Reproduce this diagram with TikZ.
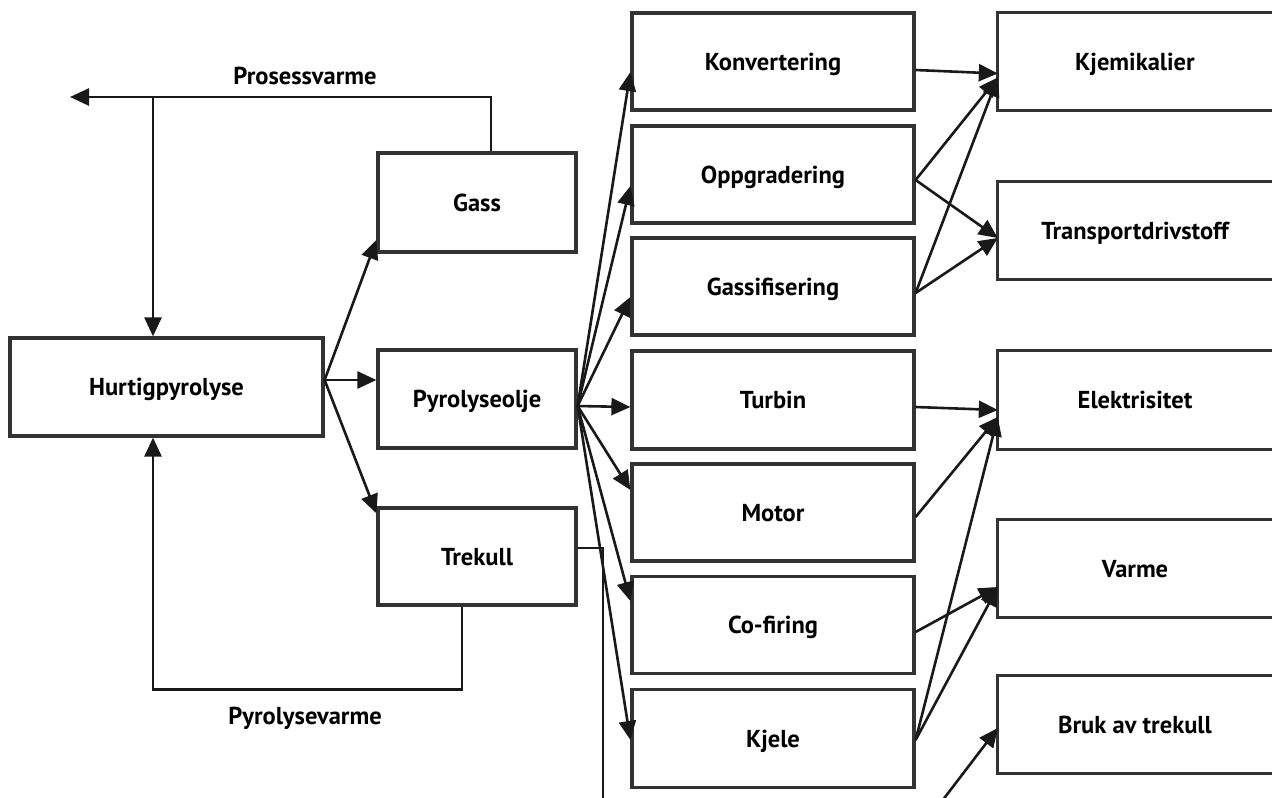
\documentclass[tikz,border=0pt]{standalone}
\usepackage{fontspec}
\setmainfont{PT Sans}
\usetikzlibrary{arrows.meta,calc}
\begin{document}
\begin{tikzpicture}[x=1pt,y=-1pt,
  boxline/.style={draw=black!80, line width=3.2pt},
  txt/.style={font=\bfseries\fontsize{24.5}{28}\selectfont, text=black, text height=17pt, text depth=0pt},
  box/.style={boxline, txt, rectangle, inner sep=0pt},
  lbox/.style={box, minimum width=198pt, minimum height=97pt},
  mbox/.style={box, minimum width=282pt, minimum height=97pt},
  rbox/.style={txt, rectangle, inner sep=0pt, minimum width=274pt, minimum height=97pt},
  conn/.style={draw=black!90, line width=2.6pt, -{Triangle[length=19pt,width=17pt]}},
  plain/.style={draw=black!90, line width=2.6pt},
  lbl/.style={txt}]
\useasboundingbox (0,0) rectangle (1272,798);
\clip (0,0) rectangle (1272,798);
\fill[white] (0,0) rectangle (1272,798);

% left column
\node[box, minimum width=313pt, minimum height=98pt] (hp) at (166.5,387) {Hurtigpyrolyse};
\node[lbox, minimum height=99pt] (gass) at (477,202.5) {Gass};
\node[lbox, minimum height=98pt] (po) at (477,399) {Pyrolyseolje};
\node[lbox] (tk) at (477,556.5) {Trekull};

% middle column
\node[mbox] (konv) at (773,61.5) {Konvertering};
\node[mbox] (oppg) at (773,174.5) {Oppgradering};
\node[mbox] (gassi) at (773,286.5) {Gassifisering};
\node[mbox, minimum height=98pt] (turb) at (773,400) {Turbin};
\node[mbox] (mot) at (773,512.5) {Motor};
\node[mbox] (cof) at (773,625) {Co-firing};
\node[mbox, minimum height=98pt] (kje) at (773,738.5) {Kjele};

% right column (open to the right edge)
\node[rbox] (kj) at (1135,61.5) {Kjemikalier};
\node[rbox] (td) at (1135,230.5) {Transportdrivstoff};
\node[rbox, minimum height=98pt] (el) at (1135,400) {Elektrisitet};
\node[rbox] (va) at (1135,568.5) {Varme};
\node[rbox] (bt) at (1135,724.5) {Bruk av trekull};
\foreach \n in {kj,td,el,va,bt}{
  \draw[boxline] ([xshift=30pt]\n.north east) -- (\n.north west) -- (\n.south west) -- ([xshift=30pt]\n.south east);
}

% labels
\node[lbl] (lprocess) at (305,76) {Prosessvarme};
\node[lbl] (lpyro) at (305,716) {Pyrolysevarme};

% heat loops
\coordinate (procend) at (70,97);
\coordinate (procj) at ([xshift=-13.5pt]hp.north |- procend);
\draw[conn] ([xshift=14pt]gass.north) |- (procend);
\draw[conn] (procj) -- ([xshift=-13.5pt]hp.north);
\draw[conn] ([xshift=-15pt]tk.south) -- ++(0,83) -| ([xshift=-13.5pt]hp.south);

% Hurtigpyrolyse outputs
\coordinate (hpo) at ([yshift=7pt]hp.east);
\draw[conn] (hpo) -- ([yshift=-37.5pt]gass.west);
\draw[conn] (hpo) -- ([yshift=19pt]po.west);
\draw[conn] (hpo) -- ([yshift=-7pt]tk.north west);

% Pyrolyseolje outputs
\coordinate (poo) at ([yshift=-7pt]po.east);
\draw[conn] (poo) -- ([yshift=-10.5pt]konv.west);
\draw[conn] (poo) -- ([yshift=-11.5pt]oppg.west);
\draw[conn] (poo) -- ([yshift=-10.5pt]gassi.west);
\draw[conn] (poo) -- ([yshift=-7pt]turb.west);
\draw[conn] (poo) -- ([yshift=22.5pt]mot.west);
\draw[conn] (poo) -- ([yshift=24pt]cof.west);
\draw[conn] (poo) -- ([yshift=-1.5pt]kje.west);

% Trekull to bottom
\coordinate (tkend) at (603,815);
\draw[plain] ([yshift=8.5pt]tk.east) -| (tkend);
\coordinate (btstart) at (939,805);
\draw[conn] (btstart) -- ([yshift=-3.5pt]bt.west);

% middle to right
\draw[conn] ([yshift=-8.5pt]konv.east) -- ([yshift=-12pt]kj.west);
\draw[conn] ([yshift=-5.5pt]oppg.east) -- ([yshift=-16pt]kj.west);
\draw[conn] ([yshift=-6.5pt]gassi.east) -- ([yshift=-16pt]kj.west);
\draw[conn] ([yshift=-5.5pt]oppg.east) -- ([yshift=-7.5pt]td.west);
\draw[conn] ([yshift=-6.5pt]gassi.east) -- ([yshift=-7.5pt]td.west);
\draw[conn] ([yshift=-7pt]turb.east) -- ([yshift=-10pt]el.west);
\draw[conn] ([yshift=-4.5pt]mot.east) -- ([yshift=-17pt]el.west);
\draw[conn] ([yshift=-1.5pt]kje.east) -- ([yshift=-17pt]el.west);
\draw[conn] ([yshift=-7pt]cof.east) -- ([yshift=-18.5pt]va.west);
\draw[conn] ([yshift=-1.5pt]kje.east) -- ([yshift=-18.5pt]va.west);
\end{tikzpicture}
\end{document}
